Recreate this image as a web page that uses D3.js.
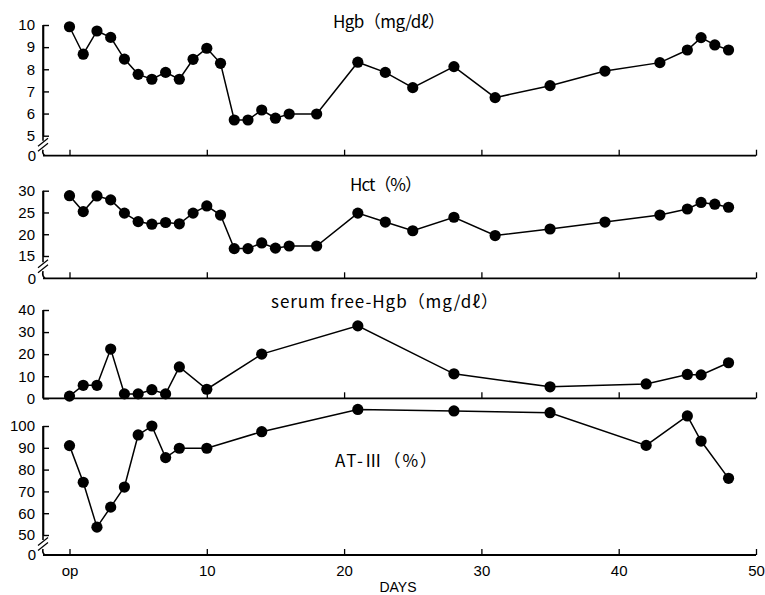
<!DOCTYPE html>
<html><head><meta charset="utf-8">
<script src="https://cdn.jsdelivr.net/npm/d3@7/dist/d3.min.js"></script>
<style>
html,body{margin:0;padding:0;background:#fff;}
svg{display:block;}
text{font-family:"Liberation Sans",Arial,sans-serif;fill:#000;}
.ttl{font-family:"Noto Sans CJK JP","Liberation Sans",sans-serif;}
</style></head>
<body>
<script>
// ---- data ----
const hgbDays = [0,1,2,3,4,5,6,7,8,9,10,11,12,13,14,15,16,18,21,23,25,28,31,35,39,43,45,46,47,48];
const hgbVals = [9.92,8.68,9.73,9.44,8.46,7.77,7.55,7.86,7.55,8.45,8.95,8.27,5.71,5.71,6.16,5.79,5.98,5.98,8.32,7.86,7.17,8.12,6.72,7.26,7.92,8.30,8.87,9.43,9.10,8.87];
const hctDays = [0,1,2,3,4,5,6,7,8,9,10,11,12,13,14,15,16,18,21,23,25,28,31,35,39,43,45,46,47,48];
const hctVals = [28.85,25.2,28.8,27.9,24.85,22.9,22.3,22.7,22.4,24.85,26.5,24.4,16.7,16.7,18.0,16.8,17.3,17.3,24.85,22.8,20.8,23.9,19.7,21.2,22.8,24.4,25.8,27.3,26.9,26.2];
const sfDays = [0,1,2,3,4,5,6,7,8,10,14,21,28,35,42,45,46,48];
const sfVals = [1,5.9,5.9,22.3,2,2,3.9,2,14.2,4.1,20,32.8,11.1,5.2,6.5,10.8,10.6,16.1];
const atDays = [0,1,2,3,4,5,6,7,8,10,14,21,28,35,42,45,46,48];
const atVals = [91,74.2,53.6,62.8,72,95.9,100,85.5,89.8,89.8,97.4,107.6,106.9,106.1,91.1,104.6,93.1,76];
const xTickVals = [0,10,20,30,40,50];
const xTickLabels = ["op","10","20","30","40","50"];

const W = 765, H = 595;
const svg = d3.select("body").append("svg").attr("width", W).attr("height", H);
const x = d3.scaleLinear().domain([0,50]).range([69.5,756]);
const axisX = 43;

const panels = [
  {days:hgbDays, vals:hgbVals, dom:[5,10], rng:[135.7,25], base:155.7, ticks:[5,6,7,8,9,10], brk:true,
   title:"Hgb（mg/dℓ）", tx:333, ty:28, tw:112},
  {days:hctDays, vals:hctVals, dom:[15,30], rng:[256,190.7], base:278.3, ticks:[15,20,25,30], brk:true,
   title:"Hct（%）", tx:350, ty:191, tw:72},
  {days:sfDays, vals:sfVals, dom:[0,40], rng:[398.3,310], base:398.3, ticks:[0,10,20,30,40], brk:false,
   title:"serum free-Hgb（mg/dℓ）", tx:271, ty:308, tw:227},
  {days:atDays, vals:atVals, dom:[50,100], rng:[535,426], base:555, ticks:[50,60,70,80,90,100], brk:true,
   title:"AT-Ⅲ（%）", tx:335, ty:467, tw:102}
];

panels.forEach((p, i) => {
  const y = d3.scaleLinear().domain(p.dom).range(p.rng);
  const g = svg.append("g");
  const ya = g.append("g").attr("transform", `translate(${axisX},0)`)
    .call(d3.axisLeft(y).tickValues(p.ticks).tickFormat(d3.format("d"))
      .tickSizeInner(-6).tickSizeOuter(0).tickPadding(8));
  ya.select(".domain").attr("stroke","#000").attr("stroke-width",1.6);
  ya.selectAll(".tick line").attr("stroke","#000").attr("stroke-width",1.4);
  ya.selectAll(".tick text").style("font-size","15px");
  const yTop = y(p.dom[1]);
  if (p.brk) {
    const yb = y(p.dom[0]);
    const mid = (yb + p.base) / 2 - 1;
    g.append("line").attr("x1",axisX).attr("x2",axisX).attr("y1",yTop).attr("y2",mid-4)
      .attr("stroke","#000").attr("stroke-width",1.6);
    [-2.5, 2.5].forEach(o => g.append("line")
      .attr("x1",axisX-5).attr("y1",mid+o+4).attr("x2",axisX+5).attr("y2",mid+o-4)
      .attr("stroke","#000").attr("stroke-width",1.3));
    g.append("path").attr("d",`M${axisX},${mid+5} Q${axisX-1},${p.base-2} ${axisX+2},${p.base}`)
      .attr("fill","none").attr("stroke","#000").attr("stroke-width",1.6);
    g.append("text").attr("x",axisX-7).attr("y",p.base).attr("dy","0.36em")
      .attr("text-anchor","end").style("font-size","15px").text("0");
  } else {
    g.append("line").attr("x1",axisX).attr("x2",axisX).attr("y1",yTop).attr("y2",p.base)
      .attr("stroke","#000").attr("stroke-width",1.6);
  }
  g.append("line").attr("x1",axisX).attr("x2",x(50)).attr("y1",p.base).attr("y2",p.base)
    .attr("stroke","#000").attr("stroke-width",1.8);
  const xa = g.append("g").attr("transform",`translate(0,${p.base})`)
    .call(d3.axisBottom(x).tickValues(xTickVals).tickSizeInner(-6).tickSizeOuter(0)
      .tickFormat((d,k) => i === 3 ? xTickLabels[k] : "").tickPadding(10));
  xa.select(".domain").remove();
  xa.selectAll(".tick line").attr("stroke","#000").attr("stroke-width",1.3);
  xa.selectAll(".tick text").style("font-size","15px");
  const pts = p.days.map((d,k) => [d, p.vals[k]]);
  g.append("path").datum(pts)
    .attr("d", d3.line().x(d => x(d[0])).y(d => y(d[1])))
    .attr("fill","none").attr("stroke","#000").attr("stroke-width",1.5);
  g.selectAll("circle").data(pts).join("circle")
    .attr("cx", d => x(d[0])).attr("cy", d => y(d[1])).attr("r", 5.6).attr("fill","#000");
  g.append("text").attr("class","ttl").attr("x",p.tx).attr("y",p.ty)
    .attr("textLength", p.tw).attr("lengthAdjust","spacing")
    .style("font-size","17px").text(p.title);
});

svg.append("text").attr("x",398).attr("y",592).attr("text-anchor","middle")
  .style("font-size","14px").text("DAYS");
</script>
</body></html>
